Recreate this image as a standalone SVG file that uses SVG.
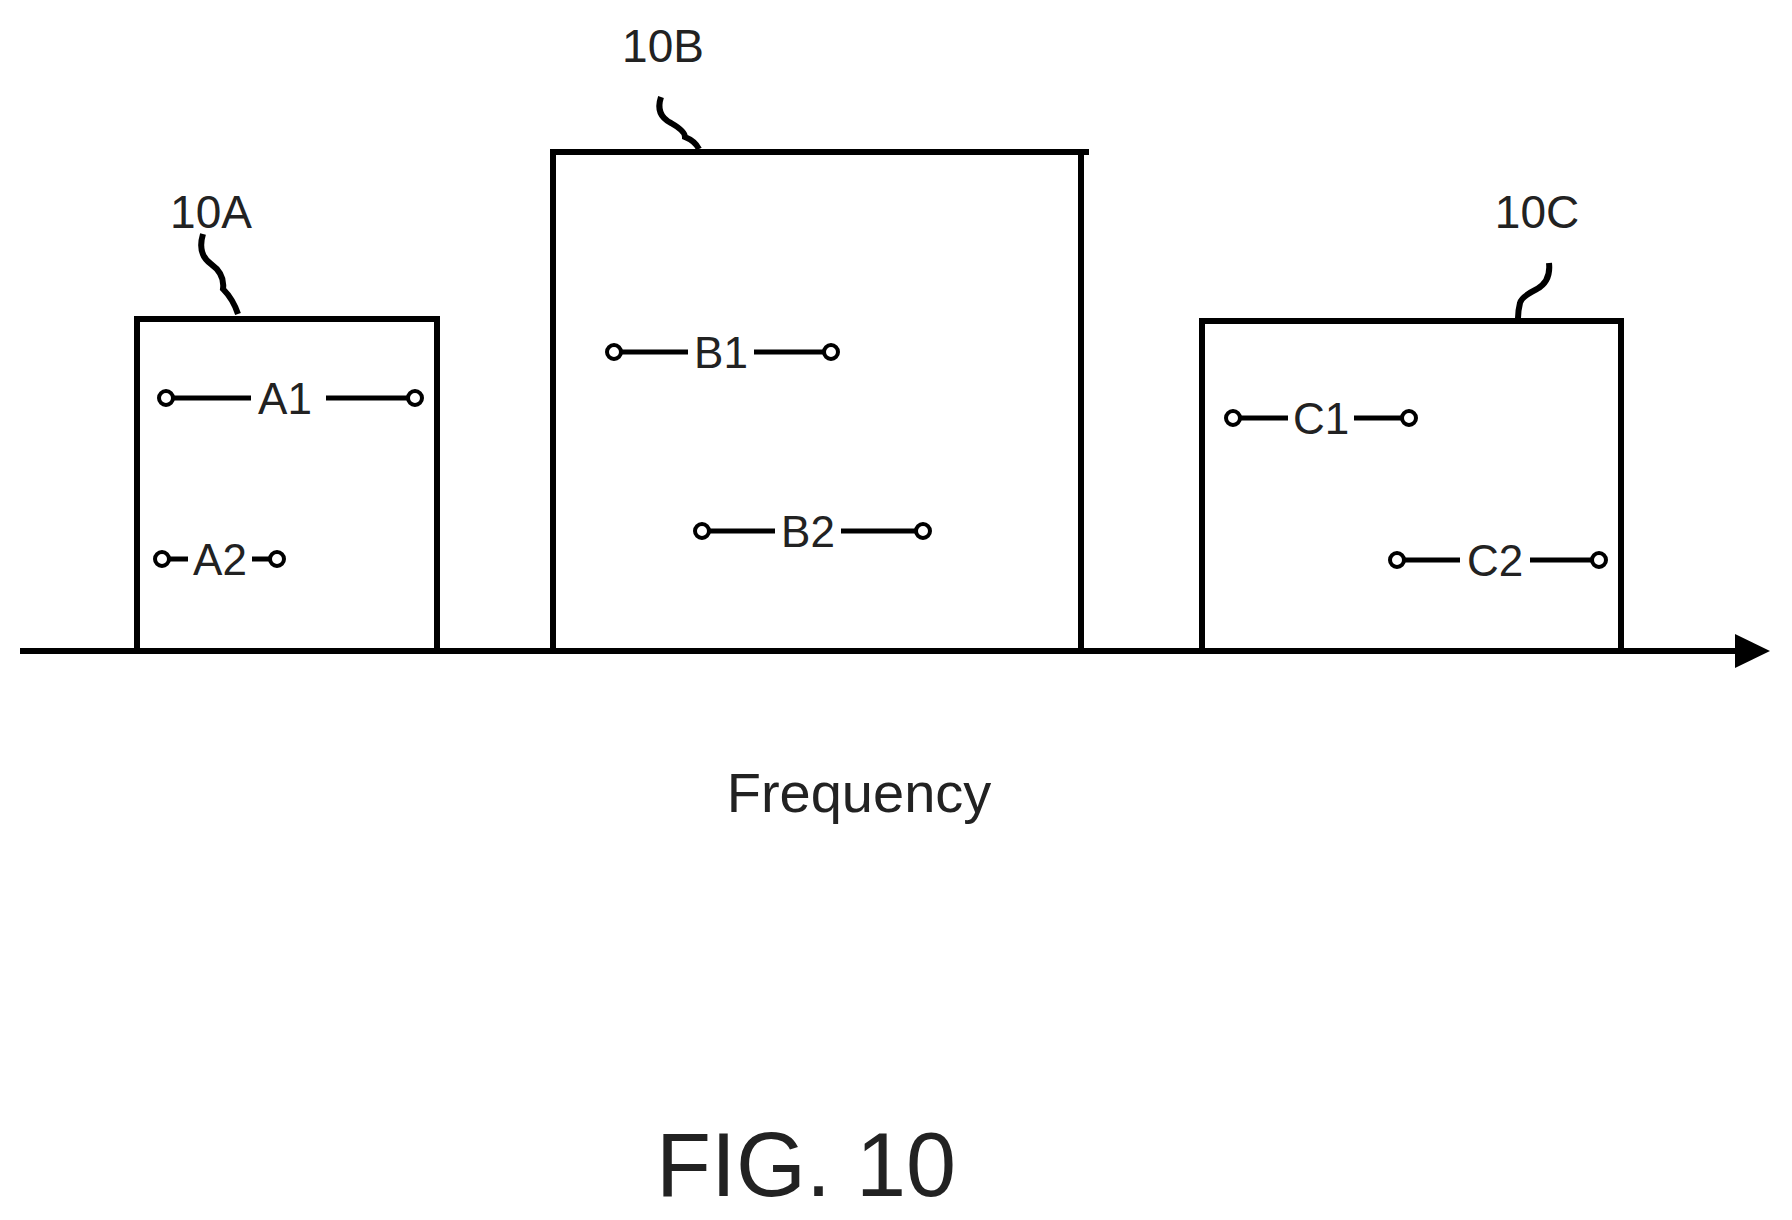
<svg xmlns="http://www.w3.org/2000/svg" width="1792" height="1220" viewBox="0 0 1792 1220">
<style>
.s{fill:none;stroke:#000;stroke-width:6}
.l{stroke:#000;stroke-width:5}
.c{fill:#fff;stroke:#000;stroke-width:4}
.t{font-family:"Liberation Sans",Arial,sans-serif;fill:#222;text-anchor:middle}
</style>
<defs><marker id="ar" markerWidth="10" markerHeight="10" refX="2" refY="5" orient="auto" markerUnits="userSpaceOnUse" viewBox="0 0 10 10"><path d="M0,0 L10,5 L0,10 Z"/></marker></defs>
<rect width="1792" height="1220" fill="#fff"/>
<g id="connectors">
<line x1="20" y1="651" x2="1740" y2="651" class="s"/>
<path d="M1735,634 L1770,651 L1735,668 Z" fill="#000"/>
<path d="M203,234 q-6,20 8,30 q14,10 12,25 q10,10 15,25" class="s" stroke-width="3"/>
<path d="M661,97 q-6,18 10,26 q14,8 14,14 q10,4 14,12" class="s" stroke-width="3"/>
<path d="M1549,263 q2,18 -12,26 q-16,8 -17,14 q-2,8 -2,15" class="s" stroke-width="3"/>
</g>
<g id="box10A"><polyline points="137,651 137,319 437,319 437,651" class="s"/><text x="211" y="228" class="t" font-size="46">10A</text></g>
<g id="box10B"><polyline points="553,651 553,152 1089,152" class="s"/><line x1="1081" y1="152" x2="1081" y2="651" class="s"/><text x="663" y="62" class="t" font-size="46">10B</text></g>
<g id="box10C"><polyline points="1202,651 1202,321 1621,321 1621,651" class="s"/><text x="1537" y="228" class="t" font-size="46">10C</text></g>
<g id="A1"><line x1="166" y1="398" x2="251" y2="398" class="l"/><line x1="326" y1="398" x2="415" y2="398" class="l"/><circle cx="166" cy="398" r="7" class="c"/><circle cx="415" cy="398" r="7" class="c"/><text x="285" y="414" class="t" font-size="44">A1</text></g>
<g id="A2"><line x1="162" y1="559" x2="188" y2="559" class="l"/><line x1="252" y1="559" x2="277" y2="559" class="l"/><circle cx="162" cy="559" r="7" class="c"/><circle cx="277" cy="559" r="7" class="c"/><text x="220" y="575" class="t" font-size="44">A2</text></g>
<g id="B1"><line x1="614" y1="352" x2="688" y2="352" class="l"/><line x1="754" y1="352" x2="831" y2="352" class="l"/><circle cx="614" cy="352" r="7" class="c"/><circle cx="831" cy="352" r="7" class="c"/><text x="721" y="368" class="t" font-size="44">B1</text></g>
<g id="B2"><line x1="702" y1="531" x2="775" y2="531" class="l"/><line x1="841" y1="531" x2="923" y2="531" class="l"/><circle cx="702" cy="531" r="7" class="c"/><circle cx="923" cy="531" r="7" class="c"/><text x="808" y="547" class="t" font-size="44">B2</text></g>
<g id="C1"><line x1="1233" y1="418" x2="1288" y2="418" class="l"/><line x1="1354" y1="418" x2="1409" y2="418" class="l"/><circle cx="1233" cy="418" r="7" class="c"/><circle cx="1409" cy="418" r="7" class="c"/><text x="1321" y="434" class="t" font-size="44">C1</text></g>
<g id="C2"><line x1="1397" y1="560" x2="1460" y2="560" class="l"/><line x1="1530" y1="560" x2="1599" y2="560" class="l"/><circle cx="1397" cy="560" r="7" class="c"/><circle cx="1599" cy="560" r="7" class="c"/><text x="1495" y="576" class="t" font-size="44">C2</text></g>
<text x="859" y="812" class="t" font-size="56">Frequency</text>
<text x="806" y="1196" class="t" font-size="90">FIG. 10</text>
</svg>
